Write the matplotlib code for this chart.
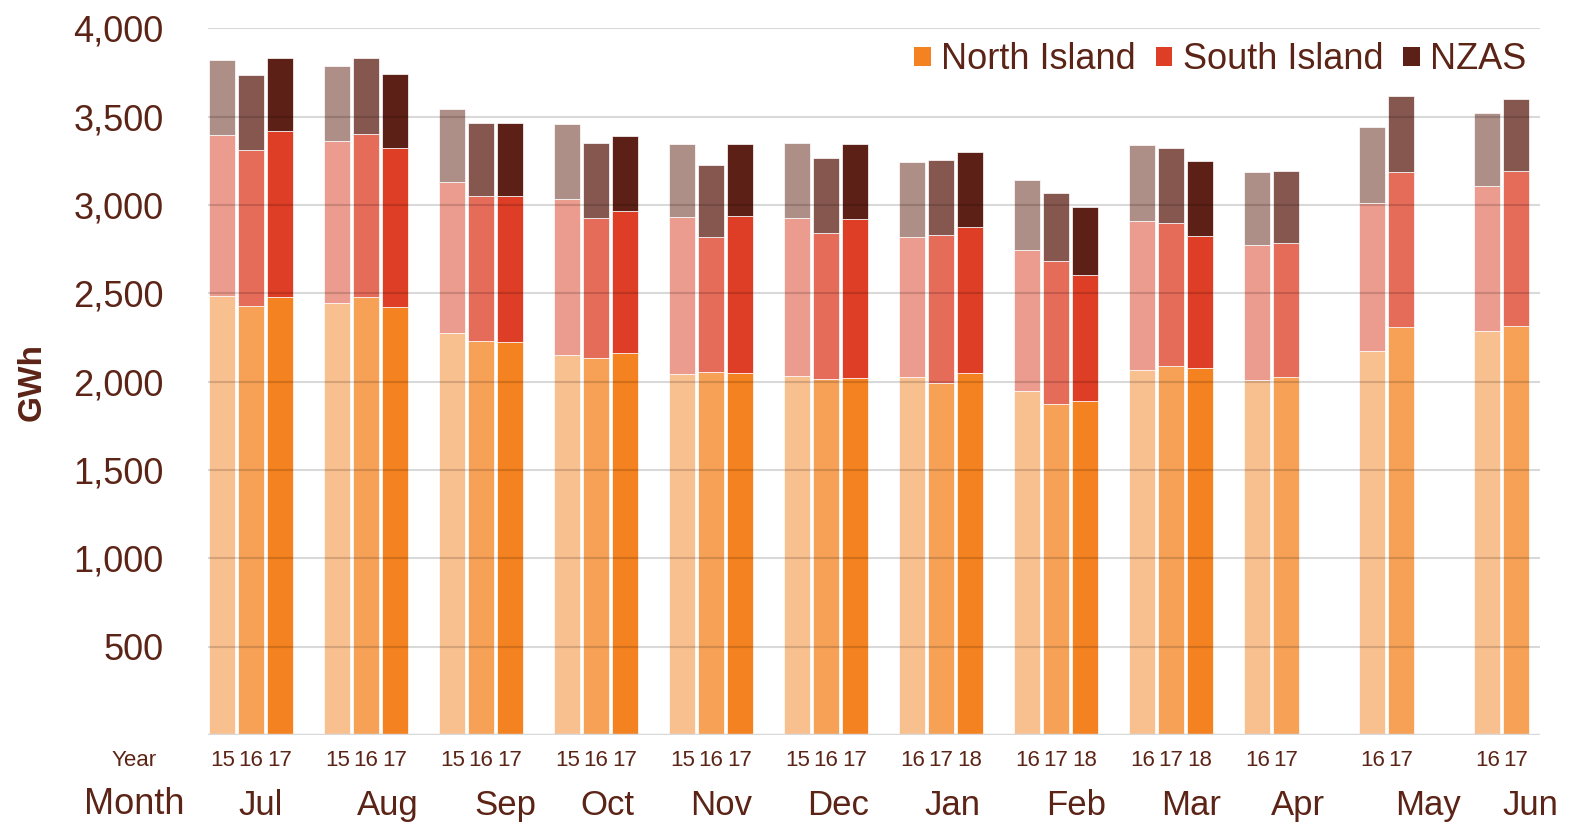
import matplotlib
matplotlib.use("Agg")
import matplotlib.pyplot as plt
from matplotlib.patches import Patch

plt.rcParams['font.family'] = ['Liberation Sans', 'DejaVu Sans']

months = ['Jul', 'Aug', 'Sep', 'Oct', 'Nov', 'Dec', 'Jan', 'Feb', 'Mar', 'Apr', 'May', 'Jun']
years = [['15', '16', '17']] * 6 + [['16', '17', '18']] * 3 + [['16', '17']] * 3

# GWh per bar (one list per month, one value per year)
north = [[2482, 2429, 2480], [2445, 2480, 2425], [2276, 2231, 2225],
         [2152, 2135, 2163], [2044, 2054, 2050], [2033, 2014, 2020],
         [2025, 1995, 2048], [1948, 1876, 1893], [2067, 2088, 2080],
         [2010, 2027], [2174, 2310], [2288, 2316]]
south = [[916, 882, 936], [919, 923, 899], [854, 817, 827],
         [881, 791, 802], [887, 764, 885], [891, 827, 900],
         [793, 835, 827], [796, 808, 710], [844, 809, 744],
         [761, 757], [838, 878], [821, 874]]
nzas = [[424, 422, 418], [422, 429, 417], [413, 414, 414],
        [427, 424, 425], [412, 410, 410], [424, 424, 423],
        [425, 424, 424], [397, 385, 385], [428, 425, 425],
        [415, 411], [429, 426], [409, 410]]

series = ['North Island', 'South Island', 'NZAS']
# shades: oldest year -> newest year
shades = {
    'North Island': ['#F8BF8F', '#F6A156', '#F58220'],
    'South Island': ['#EC9C8F', '#E66C5A', '#DD3E25'],
    'NZAS': ['#AE8F88', '#86574F', '#5C2017'],
}
text_col = '#5C2416'
month_offset = [1.32, 1.74, 1.84, 1.4, 1.36, 1.4, 1.4, 1.7, 1.7, 1.4, 1.95, 1.5]

fig = plt.figure(figsize=(15.75, 8.25), dpi=100)
ax = fig.add_axes([208 / 1575, 1 - 735 / 825, 1332 / 1575, (735 - 28.3) / 825])

ticks, tick_labels = [], []
for i, m in enumerate(months):
    for j, yr in enumerate(years[i]):
        x = i * 4 + j
        vals = [north[i][j], south[i][j], nzas[i][j]]
        bottom = 0
        for s, v in zip(series, vals):
            ax.bar(x, v, bottom=bottom, width=0.9, color=shades[s][j],
                   edgecolor='white', linewidth=0.5, zorder=2)
            bottom += v
        ticks.append(x)
        tick_labels.append(yr)
    ax.annotate(m, xy=(i * 4 + month_offset[i], 0), xycoords=('data', 'axes fraction'),
                xytext=(0, -51), textcoords='offset points', ha='center', va='center',
                fontsize=25, color=text_col, annotation_clip=False)

ax.set_xlim(-0.5, 45.83)
ax.set_ylim(0, 4000)
ax.set_yticks([500, 1000, 1500, 2000, 2500, 3000, 3500, 4000])
ax.set_yticklabels([f'{v:,}' for v in ax.get_yticks()])
ax.set_xticks(ticks)
ax.set_xticklabels(tick_labels)
ax.tick_params(axis='y', length=0, pad=32, labelsize=26, labelcolor=text_col)
ax.tick_params(axis='x', length=0, pad=11, labelsize=16, labelcolor=text_col)

for sp in ax.spines.values():
    sp.set_visible(False)
ax.yaxis.grid(True, color='black', alpha=0.15, linewidth=1.5, zorder=3)
ax.set_axisbelow(False)
ax.axhline(0, color='#D9D9D9', linewidth=2.5, zorder=3)

fig.text(134 / 1575, 1 - 761 / 825, 'Year', ha='center', va='center', fontsize=16, color=text_col)
fig.text(134 / 1575, 1 - 805 / 825, 'Month', ha='center', va='center', fontsize=26, color=text_col)
fig.text(32 / 1575, 1 - 382 / 825, 'GWh', ha='center', va='center', rotation=90,
         fontsize=24, fontweight='bold', color=text_col)

handles = [Patch(facecolor=shades[s][2], label=s) for s in series]
leg = ax.legend(handles=handles, loc='upper right', bbox_to_anchor=(0.99, 0.98), ncol=3,
                frameon=False, fontsize=26, handlelength=0.45, handleheight=0.45,
                handletextpad=0.3, columnspacing=0.55, borderaxespad=0, borderpad=0)
for t in leg.get_texts():
    t.set_color(text_col)

fig.savefig('out.png', dpi=100)
